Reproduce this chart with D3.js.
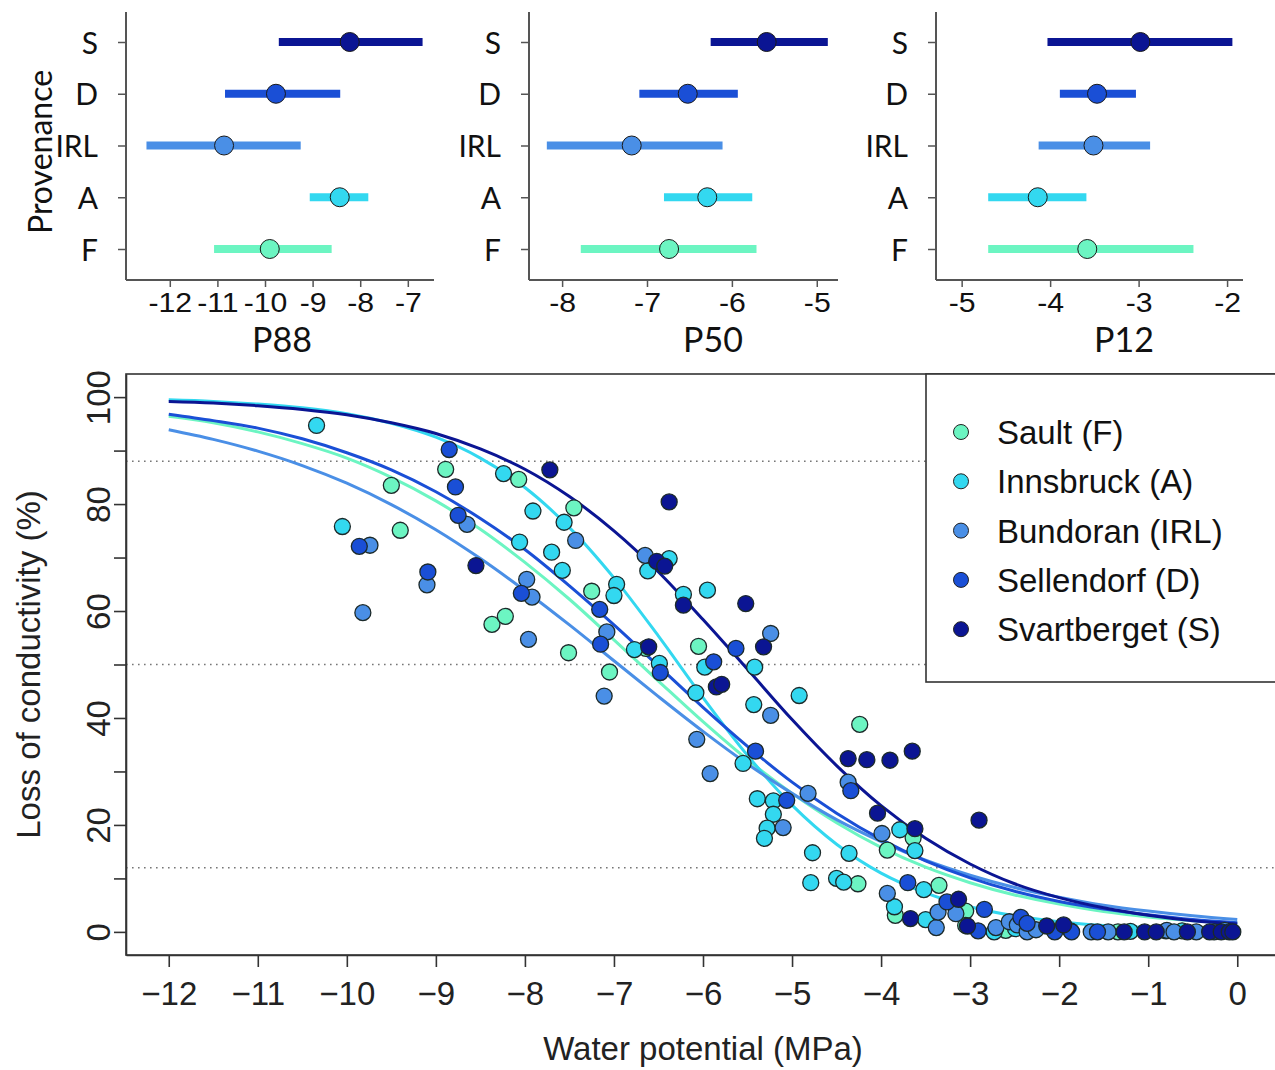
<!DOCTYPE html>
<html><head><meta charset="utf-8">
<script src="https://cdn.jsdelivr.net/npm/d3@7"></script>
<style>body{margin:0;background:#fff}svg{display:block}</style>
</head><body><svg id="c" width="1275" height="1070"></svg>
<script>
// ---------------- DATA ----------------
const provCodes = ["S", "D", "IRL", "A", "F"];
const provColors = ["#0b1593", "#1a4fd6", "#4a8fe6", "#33d8f0", "#6cf5c2"];

const p88Low  = [-9.71, -10.84, -12.49, -9.06, -11.07];
const p88Est  = [-8.22, -9.77, -10.86, -8.43, -9.90];
const p88High = [-6.69, -8.42, -9.25, -7.83, -8.60];
const p50Low  = [-6.25, -7.09, -8.18, -6.80, -7.78];
const p50Est  = [-5.59, -6.52, -7.18, -6.29, -6.74];
const p50High = [-4.87, -5.93, -6.11, -5.76, -5.71];
const p12Low  = [-4.03, -3.89, -4.13, -4.70, -4.70];
const p12Est  = [-2.98, -3.47, -3.51, -4.14, -3.58];
const p12High = [-1.94, -3.03, -2.87, -3.59, -2.38];
const p88Ticks = [-12, -11, -10, -9, -8, -7];
const p50Ticks = [-8, -7, -6, -5];
const p12Ticks = [-5, -4, -3, -2];

const legendNames = ["Sault (F)", "Innsbruck (A)", "Bundoran (IRL)", "Sellendorf (D)", "Svartberget (S)"];
const seriesColors = ["#6cf5c2", "#33d8f0", "#4a8fe6", "#1a4fd6", "#0b1593"];

const curveX = [-12, -11.5, -11, -10.5, -10, -9.5, -9, -8.5, -8, -7.5, -7, -6.5, -6, -5.5, -5, -4.5, -4, -3.5, -3, -2.5, -2, -1.5, -1, -0.5, 0];
const curveF   = [96.4, 95.2, 93.5, 91.3, 88.6, 85.0, 80.6, 75.3, 69.1, 62.2, 54.6, 46.9, 39.3, 32.2, 25.9, 20.4, 15.8, 12.1, 9.2, 6.9, 5.2, 3.8, 2.8, 2.1, 1.6];
const curveA   = [99.5, 99.2, 98.7, 98.0, 96.9, 95.1, 92.5, 88.6, 83.1, 75.6, 66.2, 55.3, 43.8, 33.0, 23.7, 16.4, 11.0, 7.3, 4.7, 3.0, 1.9, 1.2, 0.8, 0.5, 0.3];
const curveIRL = [93.9, 92.1, 89.9, 87.2, 83.9, 79.9, 75.2, 69.8, 63.8, 57.4, 50.7, 44.0, 37.5, 31.4, 25.9, 21.0, 16.9, 13.4, 10.6, 8.3, 6.5, 5.0, 3.9, 3.0, 2.3];
const curveD   = [96.8, 95.6, 94.2, 92.2, 89.6, 86.4, 82.3, 77.3, 71.5, 64.7, 57.4, 49.7, 42.0, 34.7, 28.0, 22.2, 17.3, 13.3, 10.1, 7.6, 5.7, 4.3, 3.2, 2.3, 1.7];
const curveS   = [99.2, 98.9, 98.4, 97.7, 96.7, 95.2, 93.2, 90.3, 86.5, 81.4, 75.0, 67.3, 58.4, 49.1, 39.7, 31.1, 23.6, 17.5, 12.7, 9.0, 6.4, 4.5, 3.1, 2.1, 1.5];

const ptsF = [[-9.50,83.5],[-9.40,75.1],[-8.89,86.5],[-8.07,84.6],[-7.45,79.3],[-8.37,57.5],[-8.22,59.0],[-7.51,52.2],[-7.25,63.7],[-7.05,48.6],[-6.64,53.0],[-6.05,53.4],[-4.24,38.8],[-4.26,9.0],[-3.64,17.6],[-3.93,15.3],[-3.35,8.7],[-3.05,3.9],[-3.05,1.2],[-3.84,3.1],[-1.34,0],[-0.80,0.2],[-2.60,0.3]];
const ptsA = [[-10.34,94.7],[-10.05,75.8],[-8.24,85.7],[-7.91,78.7],[-7.56,76.6],[-8.06,72.9],[-7.70,71.0],[-7.58,67.6],[-6.97,65.0],[-7.00,62.9],[-6.77,52.8],[-6.49,50.2],[-6.38,69.8],[-6.62,67.5],[-6.22,63.1],[-5.95,63.9],[-5.98,49.5],[-5.42,49.5],[-6.08,44.7],[-5.43,42.5],[-4.92,44.2],[-5.55,31.5],[-5.39,24.9],[-5.21,24.5],[-5.21,22.0],[-5.28,19.4],[-5.31,17.5],[-4.77,14.8],[-4.79,9.2],[-4.36,14.7],[-4.50,10.0],[-4.42,9.3],[-3.79,19.1],[-3.62,15.2],[-3.52,7.9],[-3.85,4.7],[-3.50,2.3],[-2.73,0],[-2.49,0.6],[-1.20,0.1],[-0.62,0.2]];
const ptsIRL = [[-9.74,72.3],[-9.82,59.7],[-9.10,64.9],[-8.65,76.2],[-7.43,73.2],[-7.98,65.9],[-7.92,62.6],[-7.96,54.7],[-7.08,56.1],[-7.11,44.1],[-6.65,70.4],[-5.24,55.8],[-5.24,40.5],[-6.07,36.0],[-5.92,29.6],[-4.82,25.9],[-5.10,19.5],[-4.37,28.0],[-3.99,18.4],[-3.93,7.2],[-3.38,0.8],[-3.36,3.7],[-3.16,3.4],[-2.71,0.8],[-2.56,1.9],[-2.47,1.3],[-2.36,0],[-2.26,0.4],[-1.87,0.2],[-1.64,0],[-1.45,0],[-0.79,0.3],[-0.71,0],[-0.46,0],[-0.14,0.3]];
const ptsD = [[-9.86,72.1],[-9.09,67.3],[-8.85,90.2],[-8.78,83.2],[-8.75,77.9],[-8.04,63.3],[-7.16,60.3],[-7.15,53.8],[-6.48,48.5],[-5.88,50.5],[-5.63,53.0],[-5.41,33.8],[-5.06,24.6],[-4.34,26.4],[-3.70,9.2],[-3.26,5.6],[-2.91,0.2],[-2.84,4.2],[-2.43,2.7],[-2.36,1.6],[-2.05,0],[-1.86,0],[-1.57,0],[-0.26,0]];
const ptsS = [[-8.55,68.5],[-7.72,86.4],[-6.61,53.3],[-6.38,80.4],[-6.52,69.3],[-6.43,68.4],[-6.22,61.1],[-5.52,61.4],[-5.32,53.3],[-5.85,45.8],[-5.79,46.3],[-4.37,32.4],[-4.16,32.2],[-3.90,32.1],[-3.65,33.8],[-4.04,22.2],[-3.62,19.3],[-2.90,20.9],[-3.67,2.5],[-3.13,6.1],[-3.03,1.1],[-2.14,1.1],[-1.95,1.3],[-1.27,0],[-1.04,0],[-0.91,0],[-0.56,0],[-0.31,0],[-0.18,0],[-0.09,0],[-0.05,0]];

const xTicks = [-12, -11, -10, -9, -8, -7, -6, -5, -4, -3, -2, -1, 0];
const yTicks = [0, 10, 20, 30, 40, 50, 60, 70, 80, 90, 100];
const refLevels = [88, 50, 12];

// ---------------- DRAW ----------------
const svg = d3.select("#c");
svg.append("rect").attr("width", 1275).attr("height", 1070).attr("fill", "#fff");

const topFont = "Lato, 'Open Sans', sans-serif";
const mainFont = "'Liberation Sans', Arial, sans-serif";
const axisCol = "#555";

// ---- top panels ----
const panels = [
  {title: "P88", low: p88Low, est: p88Est, high: p88High, ticks: p88Ticks, left: 126, right: 434, domain: [-12.92, -6.45], titleX: 282},
  {title: "P50", low: p50Low, est: p50Est, high: p50High, ticks: p50Ticks, left: 529, right: 838, domain: [-8.39, -4.75], titleX: 713},
  {title: "P12", low: p12Low, est: p12Est, high: p12High, ticks: p12Ticks, left: 936, right: 1243, domain: [-5.29, -1.82], titleX: 1124}
];
const panelTop = 12, panelBottom = 280;
const yCat = d3.scalePoint().domain(provCodes).range([42, 249]);

panels.forEach(p => {
  const g = svg.append("g");
  const x = d3.scaleLinear().domain(p.domain).range([p.left, p.right]);
  g.append("line").attr("x1", p.left).attr("x2", p.left).attr("y1", panelTop).attr("y2", panelBottom)
    .attr("stroke", axisCol).attr("stroke-width", 2);
  g.append("line").attr("x1", p.left).attr("x2", p.right).attr("y1", panelBottom).attr("y2", panelBottom)
    .attr("stroke", axisCol).attr("stroke-width", 2);
  const ya = g.append("g").attr("transform", `translate(${p.left},0)`)
    .call(d3.axisLeft(yCat).tickSize(8).tickSizeOuter(0).tickPadding(20));
  ya.select(".domain").remove();
  ya.selectAll(".tick line").attr("stroke", axisCol).attr("stroke-width", 1.5);
  ya.selectAll(".tick text").attr("font-family", topFont).attr("font-size", 30).attr("fill", "#111").attr("dy", "0.37em");
  const xa = g.append("g").attr("transform", `translate(0,${panelBottom})`)
    .call(d3.axisBottom(x).tickValues(p.ticks).tickSize(7).tickSizeOuter(0).tickPadding(6).tickFormat(d => String(d)));
  xa.select(".domain").remove();
  xa.selectAll(".tick line").attr("stroke", axisCol).attr("stroke-width", 1.5);
  xa.selectAll(".tick text").attr("font-family", mainFont).attr("font-size", 27).attr("fill", "#111")
    .attr("transform", "scale(1.12,1)");
  g.selectAll("line.bar").data(provCodes).enter().append("line")
    .attr("x1", (d, i) => x(p.low[i])).attr("x2", (d, i) => x(p.high[i]))
    .attr("y1", d => yCat(d)).attr("y2", d => yCat(d))
    .attr("stroke", (d, i) => provColors[i]).attr("stroke-width", 8);
  g.selectAll("circle").data(provCodes).enter().append("circle")
    .attr("cx", (d, i) => x(p.est[i])).attr("cy", d => yCat(d)).attr("r", 9.5)
    .attr("fill", (d, i) => provColors[i]).attr("stroke", "#1a1a1a").attr("stroke-width", 1);
  g.append("text").attr("x", p.titleX).attr("y", 352).attr("text-anchor", "middle")
    .attr("font-family", topFont).attr("font-size", 34).attr("fill", "#111").text(p.title);
});
svg.append("text").attr("transform", "translate(52,152) rotate(-90)").attr("text-anchor", "middle")
  .attr("font-family", topFont).attr("font-size", 32).attr("fill", "#111").text("Provenance");

// ---- main plot ----
const L = 126, R = 1280, T = 374, B = 955;
const x = d3.scaleLinear().domain([-12.48, 0.48]).range([L, R]);
const y = d3.scaleLinear().domain([-4.32, 104.32]).range([B, T]);
const mg = svg.append("g");

mg.selectAll("line.ref").data(refLevels).enter().append("line")
  .attr("x1", L).attr("x2", R).attr("y1", d => y(d)).attr("y2", d => y(d))
  .attr("stroke", "#777").attr("stroke-width", 1.6).attr("stroke-dasharray", "1.6,4.4");

const curves = [curveF, curveA, curveIRL, curveD, curveS];
const lineGen = d3.line().x(d => x(d[0])).y(d => y(d[1])).curve(d3.curveCatmullRom.alpha(0.5));
curves.forEach((c, i) => {
  mg.append("path").attr("d", lineGen(curveX.map((xv, j) => [xv, c[j]])))
    .attr("fill", "none").attr("stroke", seriesColors[i]).attr("stroke-width", 3);
});

const pts = [ptsF, ptsA, ptsIRL, ptsD, ptsS];
pts.forEach((arr, i) => {
  mg.append("g").selectAll("circle").data(arr).enter().append("circle")
    .attr("cx", d => x(d[0])).attr("cy", d => y(d[1])).attr("r", 8)
    .attr("fill", seriesColors[i]).attr("stroke", "#1c2a2a").attr("stroke-width", 1.3);
});

mg.append("rect").attr("x", L).attr("y", T).attr("width", R - L).attr("height", B - T)
  .attr("fill", "none").attr("stroke", "#333").attr("stroke-width", 1.6);

const xa = mg.append("g").attr("transform", `translate(0,${B})`)
  .call(d3.axisBottom(x).tickValues(xTicks).tickSize(12).tickSizeOuter(0).tickPadding(15));
xa.select(".domain").attr("stroke", "#333").attr("stroke-width", 1.6);
xa.selectAll(".tick line").attr("stroke", "#333").attr("stroke-width", 1.6);
xa.selectAll(".tick text").attr("font-family", mainFont).attr("font-size", 33).attr("fill", "#222");

const ya = mg.append("g").attr("transform", `translate(${L},0)`)
  .call(d3.axisLeft(y).tickValues(yTicks).tickSize(12).tickSizeOuter(0).tickFormat(d => d % 20 === 0 ? d : ""));
ya.select(".domain").attr("stroke", "#333").attr("stroke-width", 1.6);
ya.selectAll(".tick line").attr("stroke", "#333").attr("stroke-width", 1.6);
ya.selectAll(".tick text").attr("font-family", mainFont).attr("font-size", 33).attr("fill", "#222")
  .attr("x", 0).attr("dy", 0).attr("y", -16).attr("text-anchor", "middle").attr("transform", "rotate(-90)");

svg.append("text").attr("x", (L + R) / 2).attr("y", 1060).attr("text-anchor", "middle")
  .attr("font-family", mainFont).attr("font-size", 33).attr("fill", "#222").text("Water potential (MPa)");
svg.append("text").attr("transform", `translate(40,${(T + B) / 2}) rotate(-90)`).attr("text-anchor", "middle")
  .attr("font-family", mainFont).attr("font-size", 33).attr("fill", "#222").text("Loss of conductivity (%)");

const lg = svg.append("g");
lg.append("rect").attr("x", 926).attr("y", T).attr("width", 380).attr("height", 308)
  .attr("fill", "#fff").attr("stroke", "#333").attr("stroke-width", 1.6);
legendNames.forEach((n, i) => {
  const cy = 432 + i * 49.3;
  lg.append("circle").attr("cx", 961).attr("cy", cy).attr("r", 7.5)
    .attr("fill", seriesColors[i]).attr("stroke", "#222").attr("stroke-width", 1);
  lg.append("text").attr("x", 997).attr("y", cy + 12).attr("font-family", mainFont).attr("font-size", 33)
    .attr("fill", "#111").text(n);
});
</script></body></html>
